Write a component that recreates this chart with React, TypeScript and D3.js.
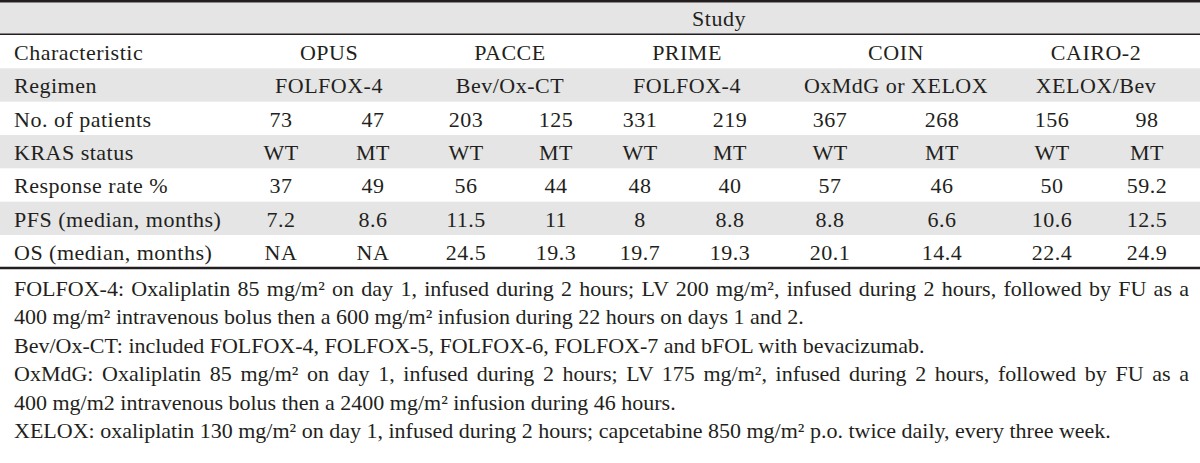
import React, { useEffect, useRef } from "react";
import * as d3 from "d3";

// ---- data ----
const studies = ["OPUS", "PACCE", "PRIME", "COIN", "CAIRO-2"];
const regimens = ["FOLFOX-4", "Bev/Ox-CT", "FOLFOX-4", "OxMdG or XELOX", "XELOX/Bev"];
const rowLabels = [
  "Characteristic",
  "Regimen",
  "No. of patients",
  "KRAS status",
  "Response rate %",
  "PFS (median, months)",
  "OS (median, months)",
];
const patientsWT = ["73", "203", "331", "367", "156"];
const patientsMT = ["47", "125", "219", "268", "98"];
const krasWT = ["WT", "WT", "WT", "WT", "WT"];
const krasMT = ["MT", "MT", "MT", "MT", "MT"];
const responseWT = ["37", "56", "48", "57", "50"];
const responseMT = ["49", "44", "40", "46", "59.2"];
const pfsWT = ["7.2", "11.5", "8", "8.8", "10.6"];
const pfsMT = ["8.6", "11", "8.8", "6.6", "12.5"];
const osWT = ["NA", "24.5", "19.7", "20.1", "22.4"];
const osMT = ["NA", "19.3", "19.3", "14.4", "24.9"];
const footnotes = [
  "FOLFOX-4: Oxaliplatin 85 mg/m² on day 1, infused during 2 hours; LV 200 mg/m², infused during 2 hours, followed by FU as a",
  "400 mg/m² intravenous bolus then a 600 mg/m² infusion during 22 hours on days 1 and 2.",
  "Bev/Ox-CT: included FOLFOX-4, FOLFOX-5, FOLFOX-6, FOLFOX-7 and bFOL with bevacizumab.",
  "OxMdG: Oxaliplatin 85 mg/m² on day 1, infused during 2 hours; LV 175 mg/m², infused during 2 hours, followed by FU as a",
  "400 mg/m2 intravenous bolus then a 2400 mg/m² infusion during 46 hours.",
  "XELOX: oxaliplatin 130 mg/m² on day 1, infused during 2 hours; capcetabine 850 mg/m² p.o. twice daily, every three week.",
];
const justified = [true, false, false, true, false, false];

// ---- layout ----
const W = 1200;
const H = 463;
const FONT = "'Liberation Serif', 'Times New Roman', serif";
const FS = 22;
const INK = "#231f20";
const SHADE = "#e5e5e5";
const groupCenters = [329, 510, 687, 896, 1096];
const wtCenters = [281, 466, 640, 830, 1052];
const mtCenters = [373, 556, 730, 942, 1147];
const LEFT = 14;
const RIGHT = 1189;

export default function App() {
  const fnRef = useRef<SVGGElement | null>(null);

  const y = d3.scaleBand<string>().domain(rowLabels).range([35, 268.3]).padding(0);
  const fy = d3
    .scaleLinear()
    .domain([0, footnotes.length - 1])
    .range([296, 438]);

  useEffect(() => {
    if (!fnRef.current) return;
    d3.select(fnRef.current)
      .selectAll<SVGTextElement, unknown>("text")
      .each(function (_, i) {
        if (!justified[i]) return;
        const el = this as SVGTextElement;
        el.setAttribute("word-spacing", "0");
        const w = el.getComputedTextLength();
        const spaces = (footnotes[i].match(/ /g) || []).length;
        const extra = (RIGHT - LEFT - w) / spaces;
        el.setAttribute("word-spacing", String(extra));
      });
  }, []);

  const pairRows: [string, string[], string[]][] = [
    ["No. of patients", patientsWT, patientsMT],
    ["KRAS status", krasWT, krasMT],
    ["Response rate %", responseWT, responseMT],
    ["PFS (median, months)", pfsWT, pfsMT],
    ["OS (median, months)", osWT, osMT],
  ];

  const LS = 0.5;

  return (
    <svg
      width={W}
      height={H}
      viewBox={`0 0 ${W} ${H}`}
      style={{ position: "absolute", left: 0, top: 0, background: "#fff" }}
      fontFamily={FONT}
      fontSize={FS}
      fill={INK}
    >
      <rect x={0} y={0} width={W} height={H} fill="#fff" />
      {/* Study header band */}
      <rect x={0} y={2.5} width={W} height={31.5} fill={SHADE} />
      {/* shaded rows */}
      {rowLabels.map((r, i) =>
        i % 2 === 1 ? (
          <rect key={r} x={0} y={y(r)!} width={W} height={y.bandwidth()} fill={SHADE} />
        ) : null
      )}
      {/* rules */}
      <line x1={0} x2={W} y1={1.25} y2={1.25} stroke={INK} strokeWidth={2.5} />
      <line x1={0} x2={W} y1={34.3} y2={34.3} stroke={INK} strokeWidth={1.5} />
      <line x1={0} x2={W} y1={268} y2={268} stroke={INK} strokeWidth={2.5} />

      <g letterSpacing={LS}>
        <text x={719} y={26} textAnchor="middle">Study</text>

        {rowLabels.map((r) => (
          <text key={r} x={LEFT} y={y(r)! + 25}>
            {r}
          </text>
        ))}
        {studies.map((s, i) => (
          <text key={s} x={groupCenters[i]} y={y("Characteristic")! + 25} textAnchor="middle">
            {s}
          </text>
        ))}
        {regimens.map((s, i) => (
          <text key={i} x={groupCenters[i]} y={y("Regimen")! + 25} textAnchor="middle">
            {s}
          </text>
        ))}
        {pairRows.map(([row, wt, mt]) => (
          <g key={row}>
            {wt.map((v, i) => (
              <text key={"w" + i} x={wtCenters[i]} y={y(row)! + 25} textAnchor="middle">
                {v}
              </text>
            ))}
            {mt.map((v, i) => (
              <text key={"m" + i} x={mtCenters[i]} y={y(row)! + 25} textAnchor="middle">
                {v}
              </text>
            ))}
          </g>
        ))}
      </g>

      <g ref={fnRef}>
        {footnotes.map((f, i) => (
          <text key={i} x={LEFT} y={fy(i)} style={{ whiteSpace: "pre" }}>
            {f}
          </text>
        ))}
      </g>
    </svg>
  );
}
